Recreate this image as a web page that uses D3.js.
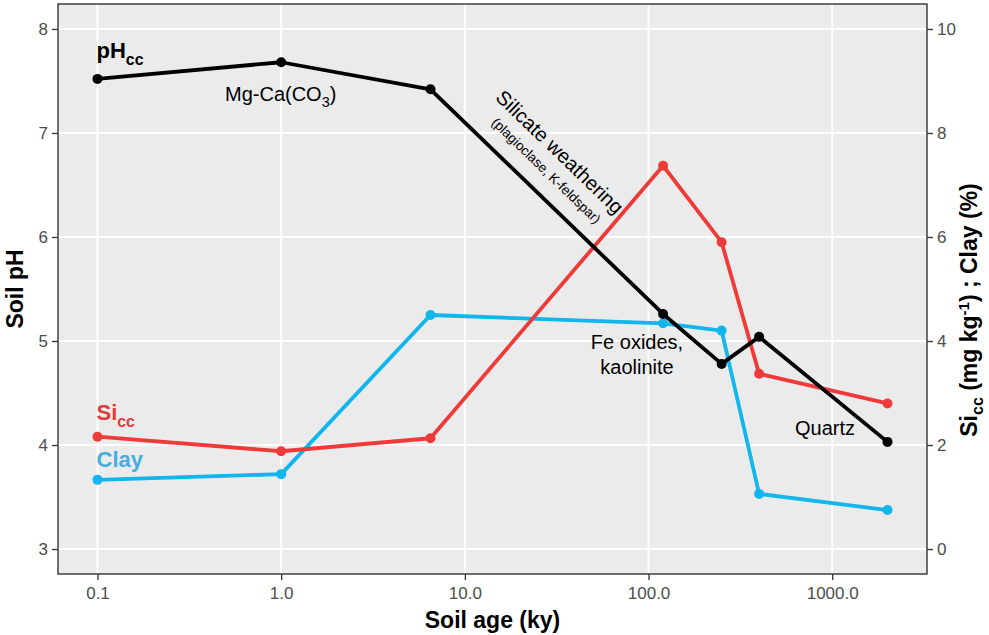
<!DOCTYPE html>
<html>
<head>
<meta charset="utf-8">
<script src="https://cdn.jsdelivr.net/npm/d3@7"></script>
<style>
  body { margin: 0; background: #fff; }
  text { font-family: "Liberation Sans", Arial, Helvetica, sans-serif; }
</style>
</head>
<body>
<div id="viz"></div>
<script>
// soil age (ky) for each sampled chronosequence site
const soilAge = [0.1, 1.0, 6.5, 120, 250, 400, 2000];
// left axis: soil pH (CaCl2)
const phValues = [7.52, 7.68, 7.42, 5.26, 4.78, 5.04, 4.03];
// right axis: Si_cc (mg/kg) and clay (%)
const siValues = [2.16, 1.88, 2.13, 7.37, 5.9, 3.37, 2.8];
const clayValues = [1.33, 1.44, 4.5, 4.34, 4.2, 1.06, 0.75];

const xTicks = [0.1, 1, 10, 100, 1000];
const phTicks = [3, 4, 5, 6, 7, 8];
const rightTicks = [0, 2, 4, 6, 8, 10];

const config = {
  width: 989,
  height: 635,
  left: 58,
  right: 927,
  top: 4,
  bottom: 574,
  panelFill: "#EBEBEB",
  tickColor: "#4D4D4D",
  lineWidth: 3.8,
  pointRadius: 5,
  black: "#000000",
  red: "#EF3A3A",
  blue: "#10B6EC",
  annoSize: 20,
  titleSize: 23,
};

const svg = d3
  .select("#viz")
  .append("svg")
  .attr("width", config.width)
  .attr("height", config.height);

// ggplot-like 5% expansion on the log range
const logMin = Math.log10(0.1);
const logMax = Math.log10(2000);
const pad = (logMax - logMin) * 0.05;
const x = d3
  .scaleLog()
  .domain([Math.pow(10, logMin - pad), Math.pow(10, logMax + pad)])
  .range([config.left, config.right]);

const y = d3.scaleLinear().domain([2.76, 8.24]).range([config.bottom, config.top]);
const y2 = d3.scaleLinear().domain([-0.48, 10.48]).range([config.bottom, config.top]);

// panel
svg
  .append("rect")
  .attr("x", config.left)
  .attr("y", config.top)
  .attr("width", config.right - config.left)
  .attr("height", config.bottom - config.top)
  .attr("fill", config.panelFill);

// grid
svg
  .append("g")
  .selectAll("line")
  .data(xTicks)
  .join("line")
  .attr("x1", (d) => x(d))
  .attr("x2", (d) => x(d))
  .attr("y1", config.top)
  .attr("y2", config.bottom)
  .attr("stroke", "#fff")
  .attr("stroke-width", 2);

svg
  .append("g")
  .selectAll("line")
  .data(phTicks)
  .join("line")
  .attr("x1", config.left)
  .attr("x2", config.right)
  .attr("y1", (d) => y(d))
  .attr("y2", (d) => y(d))
  .attr("stroke", "#fff")
  .attr("stroke-width", 2);

// axes
const styleAxis = (g) => {
  g.select(".domain").remove();
  g.selectAll(".tick line").attr("stroke", "#333").attr("stroke-width", 1.3);
  g.selectAll(".tick text")
    .attr("fill", config.tickColor)
    .attr("font-size", 17)
    .attr("font-family", "Liberation Sans, Arial, sans-serif");
};

svg
  .append("g")
  .attr("transform", `translate(0,${config.bottom})`)
  .call(
    d3.axisBottom(x).tickValues(xTicks).tickFormat(d3.format(".1f")).tickSize(6).tickPadding(7)
  )
  .call(styleAxis);

svg
  .append("g")
  .attr("transform", `translate(${config.left},0)`)
  .call(d3.axisLeft(y).tickValues(phTicks).tickFormat(d3.format("d")).tickSize(6).tickPadding(4))
  .call(styleAxis);

svg
  .append("g")
  .attr("transform", `translate(${config.right},0)`)
  .call(d3.axisRight(y2).tickValues(rightTicks).tickFormat(d3.format("d")).tickSize(6).tickPadding(4))
  .call(styleAxis);

// panel border
svg
  .append("rect")
  .attr("x", config.left)
  .attr("y", config.top)
  .attr("width", config.right - config.left)
  .attr("height", config.bottom - config.top)
  .attr("fill", "none")
  .attr("stroke", "#333")
  .attr("stroke-width", 1.4);

// series
const drawSeries = (values, scale, color) => {
  const pts = soilAge.map((a, i) => [x(a), scale(values[i])]);
  svg
    .append("path")
    .attr("d", d3.line()(pts))
    .attr("fill", "none")
    .attr("stroke", color)
    .attr("stroke-width", config.lineWidth)
    .attr("stroke-linejoin", "round");
  svg
    .append("g")
    .selectAll("circle")
    .data(pts)
    .join("circle")
    .attr("cx", (d) => d[0])
    .attr("cy", (d) => d[1])
    .attr("r", config.pointRadius)
    .attr("fill", color);
};

drawSeries(clayValues, y2, config.blue);
drawSeries(siValues, y2, config.red);
drawSeries(phValues, y, config.black);

// text helper with a subscript part
const subText = (px, py, main, sub, opts) => {
  const t = svg
    .append("text")
    .attr("x", px)
    .attr("y", py)
    .attr("font-size", opts.size)
    .attr("font-weight", opts.weight || "normal")
    .attr("fill", opts.color || "#000");
  t.append("tspan").text(main);
  t.append("tspan").attr("font-size", opts.size * 0.72).attr("dy", opts.size * 0.3).text(sub);
  if (opts.after) {
    t.append("tspan").attr("dy", -opts.size * 0.3).text(opts.after);
  }
  return t;
};

subText(x(0.1) - 1, 58, "pH", "cc", { size: 22, weight: "bold" });
subText(x(0.1) - 1, 420, "Si", "cc", { size: 22, weight: "bold", color: "#E33B3B" });
svg
  .append("text")
  .attr("x", x(0.1) - 1)
  .attr("y", 467)
  .attr("font-size", 22)
  .attr("font-weight", "bold")
  .attr("fill", "#45AEDD")
  .text("Clay");

subText(225, 101, "Mg-Ca(CO", "3", { size: config.annoSize, after: ")" });

// silicate weathering label along the pH decline
const angle = 44;
svg
  .append("text")
  .attr("transform", `translate(555,157) rotate(${angle})`)
  .attr("text-anchor", "middle")
  .attr("font-size", config.annoSize)
  .text("Silicate weathering");
svg
  .append("text")
  .attr("transform", `translate(543,174) rotate(${angle})`)
  .attr("text-anchor", "middle")
  .attr("font-size", 13.5)
  .text("(plagioclase, K-feldspar)");

svg
  .append("text")
  .attr("x", 637)
  .attr("y", 349)
  .attr("text-anchor", "middle")
  .attr("font-size", config.annoSize)
  .text("Fe oxides,");
svg
  .append("text")
  .attr("x", 637)
  .attr("y", 374)
  .attr("text-anchor", "middle")
  .attr("font-size", config.annoSize)
  .text("kaolinite");
svg
  .append("text")
  .attr("x", 825)
  .attr("y", 435)
  .attr("text-anchor", "middle")
  .attr("font-size", config.annoSize)
  .text("Quartz");

// axis titles
svg
  .append("text")
  .attr("x", (config.left + config.right) / 2)
  .attr("y", 628)
  .attr("text-anchor", "middle")
  .attr("font-size", config.titleSize)
  .attr("font-weight", "bold")
  .text("Soil age (ky)");

svg
  .append("text")
  .attr("transform", `translate(23,${(config.top + config.bottom) / 2}) rotate(-90)`)
  .attr("text-anchor", "middle")
  .attr("font-size", config.titleSize)
  .attr("font-weight", "bold")
  .text("Soil pH");

const rt = svg
  .append("text")
  .attr("transform", `translate(977,310) rotate(-90)`)
  .attr("text-anchor", "middle")
  .attr("font-size", config.titleSize)
  .attr("font-weight", "bold");
rt.append("tspan").text("Si");
rt.append("tspan").attr("font-size", 16).attr("dy", 6).text("cc");
rt.append("tspan").attr("dy", -6).text(" (mg kg");
rt.append("tspan").attr("font-size", 15).attr("dy", -8).text("-1");
rt.append("tspan").attr("dy", 8).text(") ; Clay (%)");
</script>
</body>
</html>
